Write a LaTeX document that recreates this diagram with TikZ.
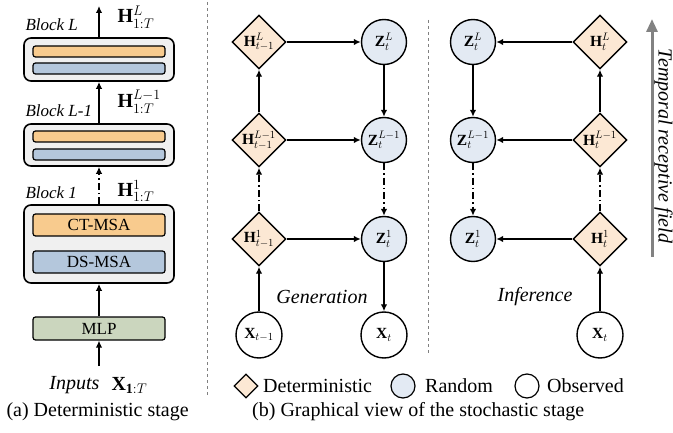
\documentclass[tikz,border=0pt]{standalone}
\usepackage{fix-cm}
\usepackage{amsmath}
\usepackage{fontspec}
\setmainfont{Liberation Serif}
\usepackage{tikz}
\usetikzlibrary{shapes.geometric,arrows.meta}

\definecolor{ctorange}{RGB}{248,203,142}
\definecolor{dsblue}{RGB}{180,199,220}
\definecolor{mlpgreen}{RGB}{203,214,190}
\definecolor{blockgray}{RGB}{240,240,240}
\definecolor{detfill}{RGB}{252,232,212}
\definecolor{randfill}{RGB}{227,234,243}
\definecolor{fieldgray}{RGB}{130,130,130}

\begin{document}
\begin{tikzpicture}[x=1pt,y=-1pt,
  every node/.style={font=\fontsize{17}{19}\selectfont},
  big/.style={font=\fontsize{20}{22}\selectfont},
  lab/.style={font=\fontsize{15.5}{17}\selectfont},
  arr/.style={line width=1.4pt,-{Latex[length=7pt,width=6.5pt]}},
  dashdot/.style={arr,dash pattern=on 7pt off 3pt on 1.5pt off 3pt},
  blk/.style={draw,line width=1.6pt,rounded corners=7pt,fill=blockgray,minimum width=150pt},
  bar/.style={draw,line width=1.2pt,rounded corners=2.5pt,minimum width=132pt,inner sep=0pt},
  det/.style={diamond,draw,line width=1.4pt,fill=detfill,minimum size=54pt,inner sep=0pt,lab},
  rnd/.style={circle,draw,line width=1.4pt,fill=randfill,minimum size=45pt,inner sep=0pt,lab},
  obs/.style={circle,draw,line width=1.4pt,fill=white,minimum size=46pt,inner sep=0pt,lab},
  sep/.style={gray,dashed,line width=0.8pt}]
\useasboundingbox (0,0) rectangle (673,433);

% (a) deterministic stage
\node[blk,minimum height=43pt] (blkL) at (99,59.5) {};
\node[bar,fill=ctorange,minimum height=11pt] (ctL) at (99,51.5) {};
\node[bar,fill=dsblue,minimum height=11pt] (dsL) at (99,68.5) {};
\node[blk,minimum height=42pt] (blkM) at (99,145) {};
\node[bar,fill=ctorange,minimum height=11pt] (ctM) at (99,136.5) {};
\node[bar,fill=dsblue,minimum height=11pt] (dsM) at (99,154.5) {};
\node[blk,minimum height=78pt] (blkA) at (99,244) {};
\node[bar,fill=ctorange,minimum height=22pt] (ctA) at (99,225) {CT-MSA};
\node[bar,fill=dsblue,minimum height=22pt] (dsA) at (99,262) {DS-MSA};
\node[bar,fill=mlpgreen,minimum height=23pt] (mlp) at (99,328.5) {MLP};
\coordinate (out) at (99,6);
\coordinate (in) at (99,366);

\draw[arr] (blkL.north) -- (out);
\draw[arr] (blkM.north) -- (blkL.south);
\draw[dashdot] (blkA.north) -- (blkM.south);
\draw[arr] (mlp.north) -- (blkA.south);
\draw[arr] (in) -- (mlp.south);

\node[anchor=west] (nameL) at (22,25) {\textit{Block L}};
\node[anchor=west] (nameM) at (22,111) {\textit{Block L-1}};
\node[anchor=west] (nameA) at (22,193) {\textit{Block 1}};
\node[big,anchor=west] (hL) at (114,17) {$\mathbf{H}^{L}_{1:T}$};
\node[big,anchor=west] (hM) at (114,102) {$\mathbf{H}^{L-1}_{1:T}$};
\node[big,anchor=west] (hA) at (114,191) {$\mathbf{H}^{1}_{1:T}$};
\node[big,anchor=east] (inp) at (103,385) {\textit{Inputs}};
\node[big,anchor=west] (xin) at (108,385) {$\mathbf{X}_{\mathbf{1}:T}$};
\node[big,anchor=west] (capa) at (3,412) {(a) Deterministic stage};

\draw[sep] (207,2) -- (207,397);
\draw[sep] (428,20) -- (428,355);

% (b) generation
\foreach \i/\y/\s in {3/42/L,2/140/{L-1},1/239/1} {
  \node[det] (Hg\i) at (259,\y) {$\mathbf{H}^{\s}_{t-1}$};
  \node[rnd] (Zg\i) at (384,\y) {$\mathbf{Z}^{\s}_{t}$};
  \draw[arr] (Hg\i) -- (Zg\i);
  \node[det] (Hi\i) at (600,\y) {$\mathbf{H}^{\s}_{t}$};
  \node[rnd] (Zi\i) at (473,\y) {$\mathbf{Z}^{\s}_{t}$};
  \draw[arr] (Hi\i) -- (Zi\i);
}
\node[obs] (Xgp) at (259,335) {$\mathbf{X}_{t-1}$};
\node[obs] (Xg) at (384,335) {$\mathbf{X}_{t}$};
\node[obs] (Xi) at (600,335) {$\mathbf{X}_{t}$};

\draw[arr] (Hg2) -- (Hg3);
\draw[arr] (Zg3) -- (Zg2);
\draw[dashdot] (Hg1) -- (Hg2);
\draw[dashdot] (Zg2) -- (Zg1);
\draw[arr] (Zg1) -- (Xg);
\draw[arr] (Xgp) -- (Hg1);
\node[big] (gen) at (322,297) {\textit{Generation}};

% (b) inference
\draw[arr] (Hi2) -- (Hi3);
\draw[arr] (Zi3) -- (Zi2);
\draw[dashdot] (Hi1) -- (Hi2);
\draw[dashdot] (Zi2) -- (Zi1);
\draw[arr] (Xi) -- (Hi1);
\node[big] (inf) at (535,297) {\textit{Inference}};

% receptive field
\coordinate (fbot) at (652,257);
\coordinate (ftop) at (652,19);
\draw[fieldgray,line width=3pt,-{Triangle[length=13pt,width=11pt]}] (fbot) -- (ftop);
\node[big,rotate=-90,inner sep=0pt] (field) at (663.5,146) {\textit{Temporal receptive field}};

% legend
\node[diamond,draw,line width=1.2pt,fill=detfill,minimum size=24pt,inner sep=0pt] (legD) at (246,386) {};
\node[big,anchor=west,inner sep=0pt] (legDt) at (263,386) {Deterministic};
\node[circle,draw,line width=1.2pt,fill=randfill,minimum size=24pt,inner sep=0pt] (legR) at (403,386) {};
\node[big,anchor=west,inner sep=0pt] (legRt) at (425,386) {Random};
\node[circle,draw,line width=1.2pt,fill=white,minimum size=24pt,inner sep=0pt] (legO) at (527,386) {};
\node[big,anchor=west,inner sep=0pt] (legOt) at (547,386) {Observed};
\node[big,anchor=west,inner sep=0pt] (capb) at (252,412) {(b) Graphical view of the stochastic stage};
\end{tikzpicture}
\end{document}
